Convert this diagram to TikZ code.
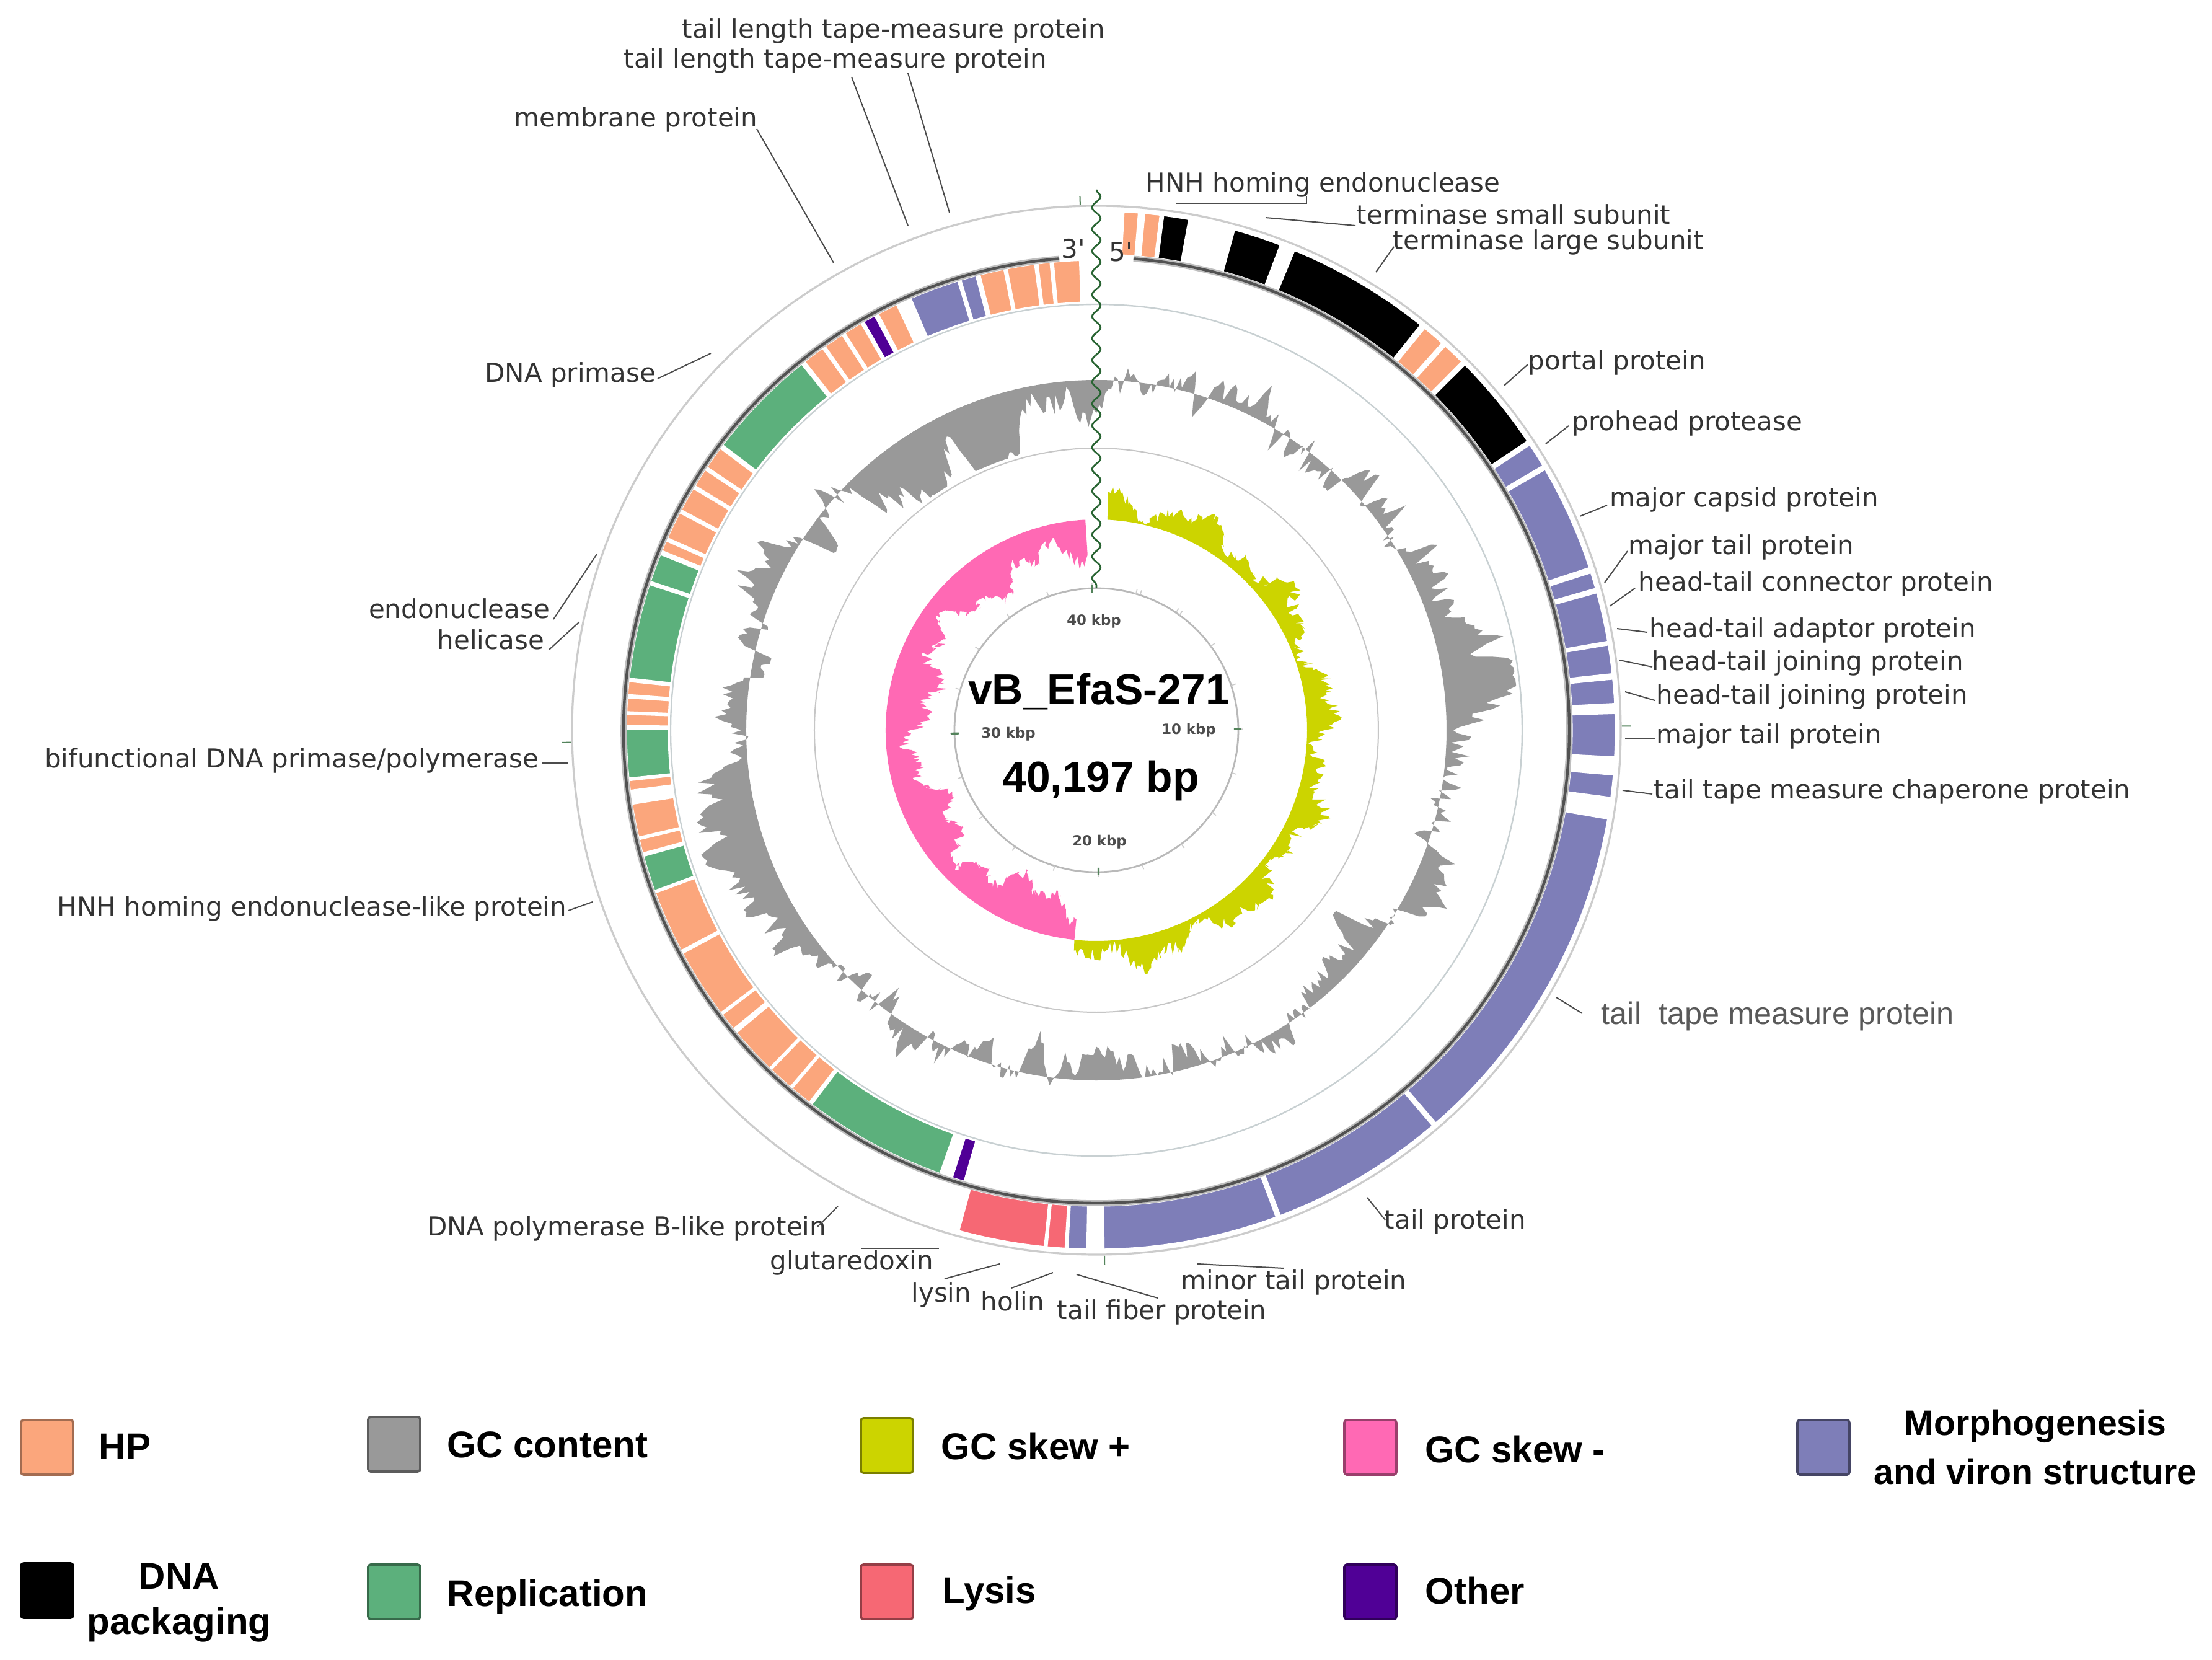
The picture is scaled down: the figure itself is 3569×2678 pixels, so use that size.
\documentclass[tikz,border=0pt]{standalone}
\usepackage{fontspec}
\setmainfont{DejaVu Sans}
\newfontfamily\arialf{Liberation Sans}
\usetikzlibrary{decorations.pathmorphing}
\definecolor{hp}{RGB}{251,166,124}
\definecolor{gcc}{RGB}{153,153,153}
\definecolor{skp}{RGB}{204,212,0}
\definecolor{skn}{RGB}{255,105,180}
\definecolor{morph}{RGB}{126,126,184}
\definecolor{rep}{RGB}{92,176,124}
\definecolor{lysc}{RGB}{246,104,116}
\definecolor{oth}{RGB}{80,0,150}
\definecolor{wavec}{RGB}{40,100,50}
\definecolor{edgec}{RGB}{200,208,210}
\colorlet{blk}{black}
\newcommand\gsec[5]{\fill[#5, draw=white, line width=0.8pt] ({90-#1}:#4) arc[start angle={90-#1}, end angle={90-#2}, radius=#4] -- ({90-#2}:#3) arc[start angle={90-#2}, end angle={90-#1}, radius=#3] -- cycle;}
\newcommand\glabel[7]{%
  \node[lbl, anchor=#2] (#1) at (#3,#4) {#5};
  \coordinate (#1a) at (#6); \coordinate (#1b) at (#7);
  \draw[lead] (#1a) -- (#1b);}
\tikzset{
  lbl/.style={font=\fontsize{10.5}{12}\selectfont, text=black!80, inner sep=0pt, text height=0.76em, text depth=0.24em},
  lead/.style={draw=black!70, line width=0.5pt},
  tick/.style={font=\bfseries\fontsize{5.7}{6}\selectfont, text=black!70, inner sep=0pt},
  title/.style={font=\arialf\bfseries\fontsize{17.4}{19}\selectfont, inner sep=0pt},
  leg/.style={font=\arialf\bfseries\fontsize{15}{17}\selectfont, inner sep=0pt, anchor=base west},
  legs/.style={font=\arialf\bfseries\fontsize{14.3}{16}\selectfont, inner sep=0pt, anchor=base},
  swatch/.style={minimum width=21pt, minimum height=22pt, inner sep=0pt, line width=0.9pt, rounded corners=1pt}
}
\begin{document}
\begin{tikzpicture}[x=0.25pt, y=0.25pt]
\fill[white] (-1769,-1500) rectangle (1800,1178);
\useasboundingbox (-1769,-1500) rectangle (1800,1178);

% rings
\draw[gray!40, line width=0.8pt] (0,0) circle[radius=846];
\draw[edgec, line width=0.6pt] (0,0) circle[radius=687];
\draw[gray!45, line width=0.5pt] (0,0) circle[radius=455];
\draw[gray!55, line width=0.7pt] (0,0) circle[radius=229];

% GC content (mean-reverting random walk around the baseline)
\pgfmathsetseed{2718}
\gdef\gcv{0}
\gdef\gcpath{}
\foreach \i in {0,...,719}{%
  \pgfmathsetmacro\nv{0.9*\gcv+52*(rnd-0.5)}%
  \xdef\gcv{\nv}%
  \pgfmathsetmacro\rr{565+max(-104,min(116,\nv+32*sin(\i+40)+22*sin(2.5*\i+10)+10*(rnd-0.5)))}%
  \xdef\gcpath{\gcpath (\i*0.5:\rr) --}%
}
\fill[gcc, even odd rule] \gcpath cycle (0,0) circle[radius=565];

% GC skew
\fill[skp] plot[domain=-96:87, samples=367, variable=\t] (\t:{340+max(2,30+16*sin(13*\t)+10*sin(31*\t+20)+24*(rnd-0.5))}) -- (87:340) arc[start angle=87, end angle=-96, radius=340] -- cycle;
\fill[skn] plot[domain=-267:-96, samples=343, variable=\t] (\t:{340-max(2,55+18*sin(9*\t+30)+12*sin(27*\t)+22*(rnd-0.5))}) -- (-96:340) arc[start angle=-96, end angle=-267, radius=340] -- cycle;

% forward genes
\foreach \a/\b/\c in {3.0/4.7/hp, 5.3/7.1/hp, 7.4/10.3/blk, 15.4/20.8/blk, 22.4/38.7/blk, 39.2/41.8/hp, 42.2/44.8/hp, 45.2/56.2/blk, 56.6/59.4/morph, 59.8/71.8/morph, 72.3/74.2/morph, 74.6/80.2/morph, 80.5/83.8/morph, 84.3/87.1/morph, 88.1/93.0/morph, 94.9/97.5/morph, 99.8/139.2/morph, 139.6/159.3/morph, 159.7/179.2/morph, 181.0/183.2/morph, 183.4/185.5/lysc, 185.7/195.4/lysc}
  {\gsec{\a}{\b}{767}{838}{\c}}
% reverse genes
\foreach \a/\b/\c in {354.7/358.0/hp, 352.8/354.4/hp, 349.0/352.5/hp, 345.6/348.7/hp, 343.2/345.2/morph, 336.7/342.9/morph, 332.3/334.9/hp, 330.3/331.9/oth, 327.6/330.0/hp, 324.7/327.3/hp, 321.6/324.4/hp, 307.3/321.2/rep, 304.0/306.9/hp, 301.3/303.7/hp, 297.9/301.0/hp, 294.1/297.6/hp, 292.4/293.8/hp, 288.4/292.0/rep, 276.3/288.1/rep, 274.3/276.0/hp, 272.2/274.0/hp, 270.5/272.0/hp, 264.1/270.2/rep, 262.6/263.9/hp, 256.8/261.0/hp, 254.8/256.6/hp, 250.0/254.5/rep, 242.0/249.8/hp, 233.0/241.7/hp, 230.5/232.8/hp, 224.0/230.0/hp, 220.6/223.8/hp, 217.6/220.4/hp, 199.4/217.3/rep, 196.3/197.9/oth}
  {\gsec{\a}{\b}{690}{759}{\c}}

% backbone
\draw[gray!50, line width=2.4pt] (85.5:763) arc[start angle=85.5, end angle=-265.5, radius=763];
\draw[black!68, line width=1.1pt] (85.5:763) arc[start angle=85.5, end angle=-265.5, radius=763];

% ticks
\foreach \k in {1,...,22} {\draw[gray!40, line width=0.4pt] ({90-\k*17.9118}:229) -- ({90-\k*17.9118}:237);}
\foreach \k in {1,2,3,4} {
  \draw[wavec!80, line width=0.8pt] ({90-\k*89.559}:222) -- ({90-\k*89.559}:234);
  \draw[wavec!80, line width=0.5pt] ({90-\k*89.559}:848) -- ({90-\k*89.559}:862);}

% origin wave
\coordinate (wtop) at (0,872);
\coordinate (wbot) at (0,229);
\draw[wavec, line width=0.7pt, decorate, decoration={snake, amplitude=1.7pt, segment length=8.8pt}] (wtop) -- (wbot);
\node[lbl] (three) at (-37,772) {3\textquotesingle};
\node[lbl] (five) at (40,767) {5\textquotesingle};

% centre texts
\node[title] (name) at (4,62) {vB\_EfaS-271};
\node[title] (len) at (7,-82) {40,197 bp};
\node[tick] (k40) at (-4,176) {40 kbp};
\node[tick] (k10) at (149,0) {10 kbp};
\node[tick] (k20) at (5,-180) {20 kbp};
\node[tick] (k30) at (-142,-6) {30 kbp};

% labels
\glabel{tl1}{west}{-669}{1127}{tail length tape-measure protein}{-237,835}{-304,1060}
\glabel{tl2}{west}{-763}{1079}{tail length tape-measure protein}{-304,814}{-395,1054}
\glabel{mem}{west}{-940}{984}{membrane protein}{-424,754}{-548,970}
\glabel{pri}{east}{-710}{572}{DNA primase}{-622,608}{-708,567}
\glabel{endo}{east}{-881}{191}{endonuclease}{-806,284}{-876,179}
\glabel{heli}{east}{-890}{141}{helicase}{-834,175}{-883,130}
\glabel{bif}{east}{-899}{-50}{bifunctional DNA primase/polymerase}{-852,-53}{-894,-53}
\glabel{hnhl}{east}{-854}{-289}{HNH homing endonuclease-like protein}{-813,-277}{-852,-291}
\glabel{polb}{east}{-435}{-805}{DNA polymerase B-like protein}{-417,-768}{-450,-801}
\glabel{glu}{east}{-262}{-860}{glutaredoxin}{-254,-836}{-379,-836}
\glabel{lysn}{east}{-201}{-912}{lysin}{-156,-861}{-245,-885}
\glabel{hol}{west}{-187}{-926}{holin}{-70,-875}{-137,-900}
\glabel{tfib}{west}{-64}{-940}{tail fiber protein}{-32,-878}{99,-916}
\glabel{mtp}{west}{136}{-892}{minor tail protein}{163,-861}{303,-868}
\glabel{tpn}{west}{464}{-794}{tail protein}{437,-754}{466,-790}
\node[font=\arialf\fontsize{12.6}{14}\selectfont, text=black!65, inner sep=0pt, anchor=west, text height=0.72em, text depth=0.2em] (ttm) at (814,-464) {tail~~tape measure protein};
\coordinate (ttma) at (742,-431); \coordinate (ttmb) at (784,-457);
\draw[lead] (ttma) -- (ttmb);
\glabel{chap}{west}{899}{-100}{tail tape measure chaperone protein}{849,-97}{897,-103}
\glabel{mt2}{west}{903}{-11}{major tail protein}{853,-14}{901,-14}
\glabel{htj2}{west}{903}{53}{head-tail joining protein}{853,62}{901,48}
\glabel{htj1}{west}{896}{107}{head-tail joining protein}{844,113}{897,102}
\glabel{hta}{west}{892}{160}{head-tail adaptor protein}{840,164}{889,158}
\glabel{htc}{west}{874}{235}{head-tail connector protein}{828,200}{869,229}
\glabel{mt1}{west}{858}{294}{major tail protein}{820,238}{857,289}
\glabel{capn}{west}{828}{371}{major capsid protein}{780,345}{824,363}
\glabel{pro}{west}{767}{494}{prohead protease}{725,462}{762,491}
\glabel{por}{west}{696}{592}{portal protein}{658,556}{696,590}
\glabel{tls}{west}{478}{786}{terminase large subunit}{451,739}{480,780}
\glabel{tss}{west}{419}{827}{terminase small subunit}{273,827}{418,814}
\node[lbl, anchor=west] (hnh) at (79,879) {HNH homing endonuclease};
\coordinate (hnha) at (128,850); \coordinate (hnhb) at (339,850); \coordinate (hnhc) at (339,862);
\draw[lead] (hnha) -- (hnhb) -- (hnhc);

% legend
\node[swatch, fill=hp, draw=hp!65!black] (sHP) at (-1693,-1157) {};
\node[leg] (tHP) at (-1610,-1176) {HP};
\node[swatch, fill=gcc, draw=gcc!60!black] (sGC) at (-1133,-1152) {};
\node[leg] (tGC) at (-1048,-1173) {GC content};
\node[swatch, fill=skp, draw=skp!60!black] (sSP) at (-338,-1154) {};
\node[leg] (tSP) at (-251,-1176) {GC skew +};
\node[swatch, fill=skn, draw=skn!60!black] (sSN) at (442,-1157) {};
\node[leg] (tSN) at (530,-1181) {GC skew -};
\node[swatch, fill=morph, draw=morph!55!black] (sMO) at (1173,-1157) {};
\node[legs] (tMO1) at (1515,-1137) {Morphogenesis};
\node[legs] (tMO2) at (1515,-1216) {and viron structure};
\node[swatch, fill=black, draw=black] (sDN) at (-1693,-1388) {};
\node[leg, anchor=base] (tDN1) at (-1480,-1385) {DNA};
\node[leg, anchor=base] (tDN2) at (-1480,-1458) {packaging};
\node[swatch, fill=rep, draw=rep!60!black] (sRE) at (-1133,-1390) {};
\node[leg] (tRE) at (-1048,-1413) {Replication};
\node[swatch, fill=lysc, draw=lysc!60!black] (sLY) at (-338,-1390) {};
\node[leg] (tLY) at (-249,-1408) {Lysis};
\node[swatch, fill=oth, draw=oth!60!black] (sOT) at (442,-1390) {};
\node[leg] (tOT) at (530,-1409) {Other};
\end{tikzpicture}
\end{document}
